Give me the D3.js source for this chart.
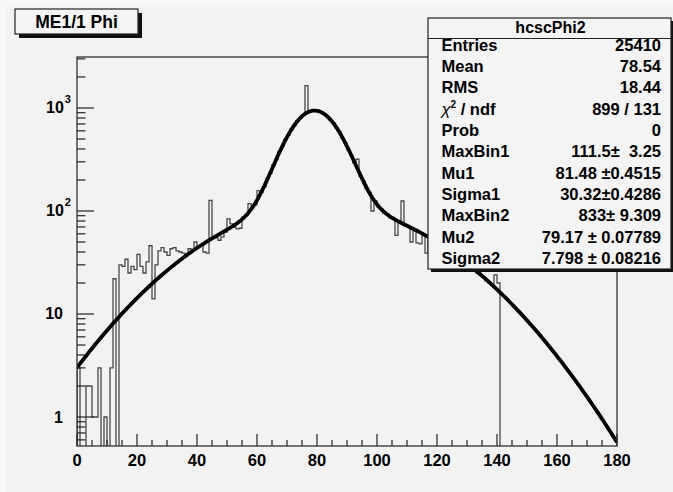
<!DOCTYPE html>
<html>
<head>
<meta charset="utf-8">
<script src="https://cdn.jsdelivr.net/npm/d3@7"></script>
<style>
  html, body { margin: 0; padding: 0; background: #f8f8f8; }
  svg { display: block; }
  text { font-family: "Liberation Sans", Arial, Helvetica, sans-serif; font-weight: bold; fill: #000; }
</style>
</head>
<body>
<svg id="chart" width="673" height="492"></svg>
<script>
// ---- histogram hcscPhi2 : 1-degree bins, 0..180 ----
const binLow = 0;
const binWidth = 1;
const counts = [
  3, 0, 0, 2, 2, 1, 1, 3, 0, 1,            // 0-9
  0, 3, 22, 0, 30, 29, 34, 25, 29, 27,     // 10-19
  38, 29, 25, 32, 46, 14, 30, 41, 44, 40,  // 20-29
  37, 43, 44, 41, 40, 39, 38, 43, 42, 50,  // 30-39
  45, 47, 40, 39, 127, 56, 55, 52, 56, 62, // 40-49
  84, 75, 70, 67, 68, 87, 90, 118, 112, 115,        // 50-59
  158, 152, 172, 208, 232, 281, 315, 378, 421, 495, // 60-69
  546, 628, 676, 752, 796, 862, 1650, 930, 935, 950, // 70-79
  925, 915, 866, 832, 762, 716, 640, 588, 508, 459, // 80-89
  390, 347, 292, 318, 218, 196, 165, 152, 100, 125, // 90-99
  110, 104, 95, 93, 86, 85, 58, 80, 125, 72,        // 100-109
  71, 50, 66, 49, 48, 58, 39, 55, 52, 50,           // 110-119
  47, 46, 44, 42, 40, 39, 36, 35, 33, 31,           // 120-129
  30, 28, 27, 25, 24, 23, 21, 20, 19, 24,           // 130-139
  20, 0, 0, 0, 0, 0, 0, 0, 0, 0,                    // 140-149
  0, 0, 0, 0, 0, 0, 0, 0, 0, 0,                     // 150-159
  0, 0, 0, 0, 0, 0, 0, 0, 0, 0,                     // 160-169
  0, 0, 0, 0, 0, 0, 0, 0, 0, 0                      // 170-179
];

// ---- double-Gaussian fit parameters ----
const fitNames  = ["MaxBin1", "Mu1", "Sigma1", "MaxBin2", "Mu2", "Sigma2"];
const fitValues = [111.5, 81.48, 30.32, 833, 79.17, 7.798];

// ---- statistics box ----
const statsTitle = "hcscPhi2";
const statsLabels = ["Entries", "Mean", "RMS", "CHI2", "Prob",
                     "MaxBin1", "Mu1", "Sigma1", "MaxBin2", "Mu2", "Sigma2"];
const statsValues = ["25410", "78.54", "18.44", "899 / 131", "0",
                     "111.5\u00b1  3.25", "81.48 \u00b10.4515", "30.32\u00b10.4286",
                     "833\u00b1 9.309", "79.17 \u00b1 0.07789", "7.798 \u00b1 0.08216"];

// ---- axes ----
const histTitle = "ME1/1 Phi";
const xDomain = [0, 180];
const xLabels = [0, 20, 40, 60, 80, 100, 120, 140, 160, 180];
const xMinorStep = 5;
const yDomain = [0.523, 3126];
const yDecades = [1, 10, 100, 1000];

const svg = d3.select("#chart");
const W = 673, H = 492;
const frame = { left: 77, right: 617, top: 57, bottom: 446 };

// canvas and pad
svg.append("rect").attr("x", 0).attr("y", 0).attr("width", W).attr("height", H).attr("fill", "#f8f8f8");
svg.append("rect").attr("x", 7).attr("y", 7).attr("width", W - 7).attr("height", H - 7).attr("fill", "#f2f2f2");

const x = d3.scaleLinear().domain(xDomain).range([frame.left, frame.right]);
const y = d3.scaleLog().domain(yDomain).range([frame.bottom, frame.top]);

svg.append("clipPath").attr("id", "frameClip")
  .append("rect")
  .attr("x", frame.left).attr("y", frame.top)
  .attr("width", frame.right - frame.left).attr("height", frame.bottom - frame.top);

const plot = svg.append("g").attr("clip-path", "url(#frameClip)");

// histogram outline, empty bins sit on the frame floor
const yOf = v => (v > 0 ? y(v) : frame.bottom + 2);
const pts = [[x(binLow), frame.bottom + 2]];
counts.forEach((c, i) => {
  const lo = binLow + i * binWidth, hi = lo + binWidth;
  pts.push([x(lo), yOf(c)]);
  pts.push([x(hi), yOf(c)]);
});
pts.push([x(binLow + counts.length * binWidth), frame.bottom + 2]);
plot.append("path")
  .attr("d", d3.line()(pts))
  .attr("fill", "none")
  .attr("stroke", "#474747")
  .attr("stroke-width", 1.3);

// fitted function
const [a1, m1, s1, a2, m2, s2] = fitValues;
const fitFn = t => a1 * Math.exp(-0.5 * ((t - m1) / s1) ** 2) + a2 * Math.exp(-0.5 * ((t - m2) / s2) ** 2);
const fitX = d3.range(xDomain[0], xDomain[1] + 0.0001, 0.5);
plot.append("path")
  .attr("d", d3.line().x(t => x(t)).y(t => y(fitFn(t))).curve(d3.curveLinear)(fitX))
  .attr("fill", "none")
  .attr("stroke", "#000")
  .attr("stroke-width", 3.8)
  .attr("stroke-linejoin", "round");

// frame
svg.append("rect")
  .attr("x", frame.left).attr("y", frame.top)
  .attr("width", frame.right - frame.left).attr("height", frame.bottom - frame.top)
  .attr("fill", "none").attr("stroke", "#222").attr("stroke-width", 1.2);

// x axis ticks (drawn inward) and labels
const xAxis = svg.append("g");
d3.range(xDomain[0], xDomain[1] + 0.001, xMinorStep).forEach(v => {
  const major = v % 20 === 0;
  xAxis.append("line")
    .attr("x1", x(v)).attr("x2", x(v))
    .attr("y1", frame.bottom).attr("y2", frame.bottom - (major ? 12 : 6))
    .attr("stroke", "#222").attr("stroke-width", 1.2);
});
xLabels.forEach(v => {
  xAxis.append("text")
    .attr("x", x(v)).attr("y", 466)
    .attr("text-anchor", "middle")
    .attr("font-size", 16.5)
    .text(v);
});

// y axis ticks (log) and labels
const yAxis = svg.append("g");
const yTicks = [];
[0.1, 1, 10, 100, 1000].forEach(d => {
  for (let k = 1; k <= 9; k++) {
    const v = d * k;
    if (v >= yDomain[0] && v <= yDomain[1]) yTicks.push({ v, major: k === 1 });
  }
});
yTicks.forEach(t => {
  yAxis.append("line")
    .attr("x1", frame.left).attr("x2", frame.left + (t.major ? 17 : 8.5))
    .attr("y1", y(t.v)).attr("y2", y(t.v))
    .attr("stroke", "#222").attr("stroke-width", 1.2);
});
yDecades.forEach(v => {
  const exp = Math.round(Math.log10(v));
  const g = yAxis.append("text")
    .attr("y", y(v) + 5.5)
    .attr("font-size", 16);
  if (exp <= 1) {
    g.attr("x", 63).attr("text-anchor", "end").text(String(v));
  } else {
    g.attr("x", 46).attr("text-anchor", "start");
    g.append("tspan").text("10");
    g.append("tspan").attr("font-size", 11).attr("dy", -10).attr("dx", 1).text(String(exp));
  }
});

// title box with drop shadow
const tb = { x: 15, y: 9, w: 123, h: 25 };
svg.append("rect").attr("x", tb.x + 4).attr("y", tb.y + 4).attr("width", tb.w).attr("height", tb.h).attr("fill", "#111");
svg.append("rect").attr("x", tb.x).attr("y", tb.y).attr("width", tb.w).attr("height", tb.h)
  .attr("fill", "#f4f4f4").attr("stroke", "#222").attr("stroke-width", 1.2);
svg.append("text").attr("x", tb.x + tb.w / 2).attr("y", tb.y + 18.5)
  .attr("text-anchor", "middle").attr("font-size", 17.5).text(histTitle);

// statistics box with drop shadow
const sb = { x: 428, y: 18, w: 243, h: 251 };
svg.append("rect").attr("x", sb.x + 3).attr("y", sb.y + 3).attr("width", sb.w).attr("height", sb.h).attr("fill", "#111");
svg.append("rect").attr("x", sb.x).attr("y", sb.y).attr("width", sb.w).attr("height", sb.h)
  .attr("fill", "#f4f4f4").attr("stroke", "#222").attr("stroke-width", 1.2);
svg.append("line").attr("x1", sb.x).attr("x2", sb.x + sb.w).attr("y1", 38.5).attr("y2", 38.5)
  .attr("stroke", "#222").attr("stroke-width", 1.2);
svg.append("text").attr("x", sb.x + sb.w / 2 + 1).attr("y", 33)
  .attr("text-anchor", "middle").attr("font-size", 16).text(statsTitle);

const rowY = d3.scaleLinear().domain([0, statsLabels.length - 1]).range([50.5, 264]);
statsLabels.forEach((lab, i) => {
  const t = svg.append("text").attr("x", 441.5).attr("y", rowY(i)).attr("font-size", 16.5);
  if (lab === "CHI2") {
    t.append("tspan").attr("font-style", "italic").attr("font-weight", "normal").text("\u03c7");
    t.append("tspan").attr("font-size", 10).attr("dy", -7).text("2");
    t.append("tspan").attr("dy", 7).style("white-space", "pre").text(" / ndf");
  } else {
    t.text(lab);
  }
  svg.append("text").attr("x", 661).attr("y", rowY(i))
    .attr("text-anchor", "end").attr("font-size", 16.5)
    .style("white-space", "pre")
    .text(statsValues[i]);
});
</script>
</body>
</html>
